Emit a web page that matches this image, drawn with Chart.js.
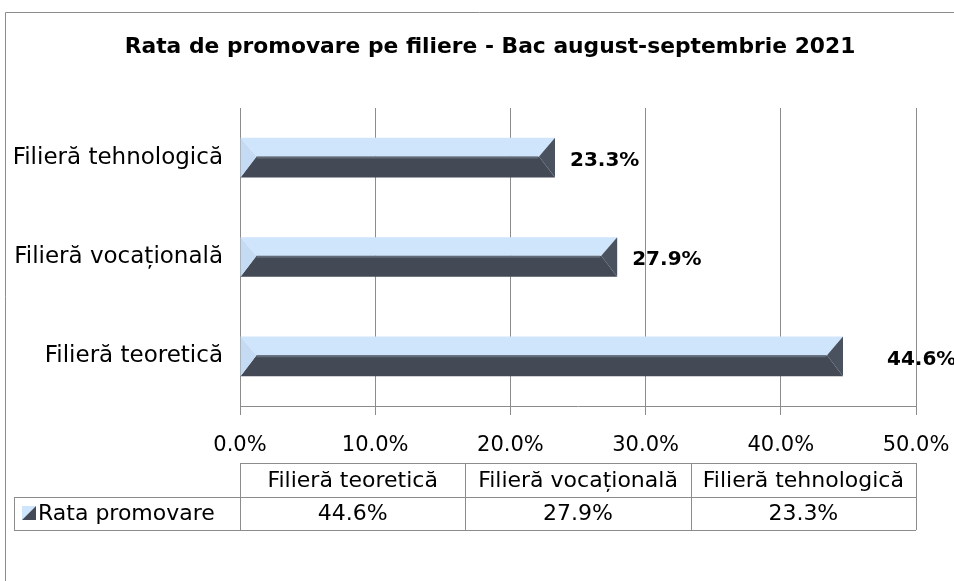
<!DOCTYPE html>
<html>
<head>
<meta charset="utf-8">
<script src="https://cdn.jsdelivr.net/npm/chart.js@4"></script>
<style>
  body{margin:0;background:#fff;overflow:hidden;}
  #wrap{position:relative;width:954px;height:581px;}
</style>
</head>
<body>
<div id="wrap"><canvas id="rateChart"></canvas></div>
<script>
// data (Excel order: first category sits at the bottom)
const categories = ["Filieră teoretică", "Filieră vocațională", "Filieră tehnologică"];
const rataPromovare = [44.6, 27.9, 23.3];
const seriesName = "Rata promovare";
const tickValues = [0, 10, 20, 30, 40, 50];
const chartTitle = "Rata de promovare pe filiere - Bac august-septembrie 2021";

// gap between bar end and its value label (Excel pushed the longest one out)
const labelGap = [44, 15, 15];

const FONT = "'DejaVu Sans', sans-serif";
const GRID = "#8c8c8c";
const TOP_BLUE = "#cfe5fc";
const LEFT_BLUE = "#c4dbf3";
const DARK = "#434a55";
const RIGHT_DARK = "#4a525f";
const STRIPE = "#626b79";

function pct(v){
    return v.toFixed(1) + "%";
}

// beveled bars, value labels, title, data table and outer frame
const bevelPlugin = {
    id: "bevel",
    afterDatasetsDraw(chart){
        const ctx = chart.ctx;
        const meta = chart.getDatasetMeta(0);
        ctx.save();
        meta.data.forEach((bar, i) => {
            const x0 = bar.base;
            const x1 = bar.x;
            const yt = bar.y - bar.height / 2;
            const yb = bar.y + bar.height / 2;
            const mid = yt + bar.height * 0.47;
            const d = 16;

            // bottom face
            ctx.fillStyle = DARK;
            ctx.beginPath();
            ctx.moveTo(x0, yb); ctx.lineTo(x1, yb); ctx.lineTo(x1 - d, mid); ctx.lineTo(x0 + d, mid);
            ctx.closePath(); ctx.fill();

            // top face
            ctx.fillStyle = TOP_BLUE;
            ctx.beginPath();
            ctx.moveTo(x0, yt); ctx.lineTo(x1, yt); ctx.lineTo(x1 - d, mid); ctx.lineTo(x0 + d, mid);
            ctx.closePath(); ctx.fill();

            // left bevel
            ctx.fillStyle = LEFT_BLUE;
            ctx.beginPath();
            ctx.moveTo(x0, yt); ctx.lineTo(x0 + d, mid); ctx.lineTo(x0, yb);
            ctx.closePath(); ctx.fill();

            // right bevel
            ctx.fillStyle = RIGHT_DARK;
            ctx.beginPath();
            ctx.moveTo(x1, yt); ctx.lineTo(x1, yb); ctx.lineTo(x1 - d, mid);
            ctx.closePath(); ctx.fill();

            // light stripe under the top face
            ctx.strokeStyle = STRIPE;
            ctx.lineWidth = 2;
            ctx.beginPath();
            ctx.moveTo(x0 + d, mid + 1); ctx.lineTo(x1 - d - 1, mid + 1);
            ctx.stroke();

            // value label
            ctx.fillStyle = "#000";
            ctx.font = "bold 20px " + FONT;
            ctx.textAlign = "left";
            ctx.textBaseline = "middle";
            ctx.fillText(pct(rataPromovare[i]), x1 + labelGap[i], bar.y + 3);
        });
        ctx.restore();
    },
    afterDraw(chart){
        const ctx = chart.ctx;
        const xs = chart.scales.x;
        const left = xs.left;
        const right = xs.right;
        const colW = (right - left) / categories.length;
        const headTop = 463;
        const rowTop = 497;
        const rowBot = 530;
        const labelLeft = 14;

        ctx.save();

        // title
        ctx.fillStyle = "#000";
        ctx.font = "bold 21.8px " + FONT;
        ctx.textAlign = "center";
        ctx.textBaseline = "middle";
        ctx.fillText(chartTitle, 490, 47);

        ctx.strokeStyle = GRID;
        ctx.lineWidth = 1;
        ctx.beginPath();
        // horizontal lines
        ctx.moveTo(left, headTop + 0.5); ctx.lineTo(right, headTop + 0.5);
        ctx.moveTo(labelLeft, rowTop + 0.5); ctx.lineTo(right, rowTop + 0.5);
        ctx.moveTo(labelLeft, rowBot + 0.5); ctx.lineTo(right, rowBot + 0.5);
        // vertical lines
        ctx.moveTo(labelLeft + 0.5, rowTop); ctx.lineTo(labelLeft + 0.5, rowBot);
        for(let i = 0; i <= categories.length; i++){
            const x = Math.round(left + i * colW) + 0.5;
            ctx.moveTo(x, headTop); ctx.lineTo(x, rowBot);
        }
        ctx.stroke();

        ctx.fillStyle = "#000";
        ctx.font = "22px " + FONT;
        ctx.textAlign = "center";
        ctx.textBaseline = "middle";
        categories.forEach((c, i) => {
            const cx = left + (i + 0.5) * colW;
            ctx.fillText(c, cx, (headTop + rowTop) / 2 + 1);
            ctx.fillText(pct(rataPromovare[i]), cx, (rowTop + rowBot) / 2 + 1);
        });

        // legend key
        const kx = 22, ky = 506, ks = 14;
        ctx.fillStyle = TOP_BLUE;
        ctx.beginPath();
        ctx.moveTo(kx, ky); ctx.lineTo(kx + ks, ky); ctx.lineTo(kx, ky + ks);
        ctx.closePath(); ctx.fill();
        ctx.fillStyle = DARK;
        ctx.beginPath();
        ctx.moveTo(kx + ks, ky); ctx.lineTo(kx + ks, ky + ks); ctx.lineTo(kx, ky + ks);
        ctx.closePath(); ctx.fill();

        ctx.fillStyle = "#000";
        ctx.textAlign = "left";
        ctx.fillText(seriesName, kx + ks + 2, (rowTop + rowBot) / 2 + 1);

        // outer frame
        ctx.strokeStyle = GRID;
        ctx.beginPath();
        ctx.moveTo(5.5, chart.height); ctx.lineTo(5.5, 12.5); ctx.lineTo(chart.width, 12.5);
        ctx.stroke();
        ctx.restore();
    }
};

const ctx = document.getElementById("rateChart");

new Chart(ctx, {
    type: "bar",
    data: {
        labels: categories,
        datasets: [{
            label: seriesName,
            data: rataPromovare,
            backgroundColor: "rgba(0,0,0,0)",
            borderWidth: 0,
            barPercentage: 0.5,
            categoryPercentage: 0.8
        }]
    },
    options: {
        indexAxis: "y",
        responsive: true,
        maintainAspectRatio: false,
        devicePixelRatio: 1,
        animation: false,
        layout: {
            padding: {left: 0, right: 38, top: 108, bottom: 119}
        },
        plugins: {
            legend: {display: false},
            tooltip: {enabled: false},
            title: {display: false}
        },
        scales: {
            x: {
                min: 0,
                max: 50,
                afterBuildTicks(scale){
                    scale.ticks = tickValues.map(v => ({value: v}));
                },
                afterFit(scale){
                    scale.height = 56;
                    scale.paddingLeft = 0;
                    scale.paddingRight = 0;
                },
                grid: {color: GRID, tickLength: 9, drawTicks: true},
                border: {color: GRID},
                ticks: {
                    color: "#000",
                    font: {family: FONT, size: 21},
                    padding: 18,
                    maxRotation: 0,
                    callback: v => pct(v)
                }
            },
            y: {
                reverse: true,
                afterFit(scale){
                    scale.width = 240;
                    scale.paddingTop = 0;
                    scale.paddingBottom = 0;
                },
                grid: {display: false},
                border: {display: false},
                ticks: {
                    color: "#000",
                    font: {family: FONT, size: 23},
                    padding: 9
                }
            }
        }
    },
    plugins: [bevelPlugin]
});
</script>
</body>
</html>
